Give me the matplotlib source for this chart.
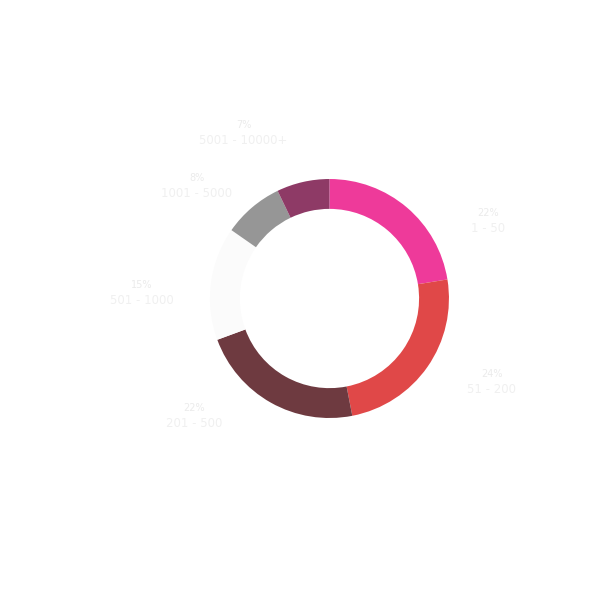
import matplotlib
matplotlib.use("Agg")
import matplotlib.pyplot as plt

# company size buckets and share of respondents
sizes = ["1 - 50", "51 - 200", "201 - 500", "501 - 1000", "1001 - 5000", "5001 - 10000+"]
shares = [22, 24, 22, 15, 8, 7]
colors = ["#ee3a9a", "#e04848", "#6e3a40", "#fbfbfb", "#969696", "#8e3a66"]

# where each label sits (data units, ring radius = 1)
label_x = [1.33, 1.36, -1.13, -1.57, -1.11, -0.72]
label_y = [0.65, -0.70, -0.98, 0.05, 0.94, 1.39]

fig = plt.figure(figsize=(6, 6), dpi=100)
ax = fig.add_axes([0, 0, 1, 1])

ax.pie(shares, colors=colors, startangle=90, counterclock=False,
       radius=1.0, wedgeprops=dict(width=0.25, edgecolor="none"))

for name, pct, x, y in zip(sizes, shares, label_x, label_y):
    ax.text(x, y + 0.065, f"{pct}%", ha="center", va="center",
            fontsize=7, color="#ebebeb")
    ax.text(x, y - 0.065, name, ha="center", va="center",
            fontsize=8.5, color="#f0f0f0")

ax.set_xlim(-2.757, 2.264)
ax.set_ylim(-2.523, 2.498)
ax.set_aspect("equal")
ax.axis("off")

fig.savefig("out.png", dpi=100, facecolor="white")
